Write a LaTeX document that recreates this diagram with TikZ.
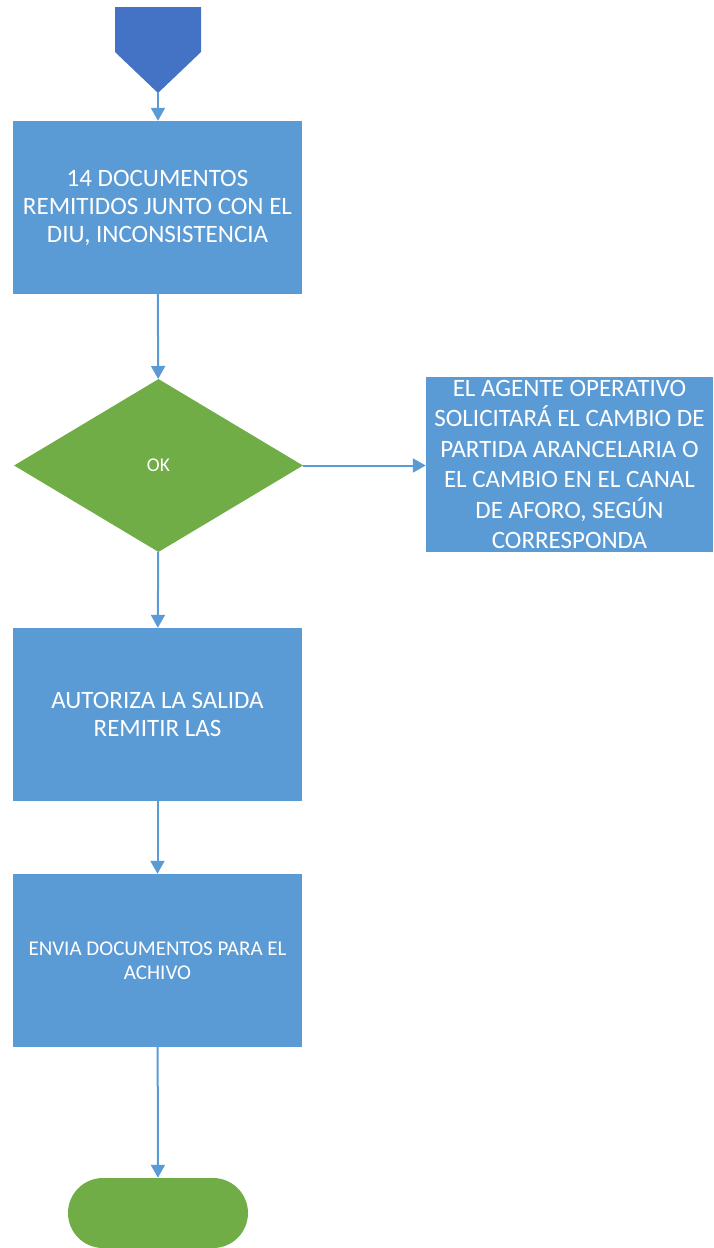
\documentclass[tikz,border=0pt]{standalone}
\usepackage{fontspec}
\setmainfont{Carlito}
\usetikzlibrary{shapes.geometric,arrows.meta}
\definecolor{boxblue}{HTML}{5B9BD5}
\definecolor{startblue}{HTML}{4472C4}
\definecolor{dgreen}{HTML}{70AD47}
\begin{document}
\begin{tikzpicture}[x=1pt,y=1pt,
  procbox/.style={rectangle,fill=boxblue,draw=none,text=white,align=center,inner sep=0pt,
    minimum width=289pt,minimum height=173pt,font=\fontsize{25}{28}\selectfont},
  decbox/.style={diamond,fill=dgreen,draw=none,text=white,inner sep=0pt,
    minimum width=289pt,minimum height=173pt,font=\fontsize{19.5}{22}\selectfont},
  termbox/.style={rectangle,rounded corners=35pt,fill=dgreen,draw=none,inner sep=0pt,
    minimum width=180pt,minimum height=70pt},
  conn/.style={draw=boxblue,line width=2pt,-{Triangle[width=14pt,length=13pt]}}
]
\useasboundingbox (0,0) rectangle (714,-1248);
\clip (0,0) rectangle (714,-1248);
% start pentagon
\fill[startblue] (115,-7) -- (201,-7) -- (201,-52) -- (158,-93) -- (115,-52) -- cycle;
\coordinate (starttip) at (158,-93);
\node[procbox] (b1) at (157.5,-207.5) {14 DOCUMENTOS\\REMITIDOS JUNTO CON EL\\DIU, INCONSISTENCIA};
\node[decbox] (d1) at (158.5,-465.5) {OK};
\node[procbox,minimum width=287pt,minimum height=175pt,font=\fontsize{25}{30.5}\selectfont] (r1) at (569.5,-464.5)
  {EL AGENTE OPERATIVO\\SOLICITARÁ EL CAMBIO DE\\PARTIDA ARANCELARIA O\\EL CAMBIO EN EL CANAL\\DE AFORO, SEGÚN\\CORRESPONDA};
\node[procbox] (b2) at (157.5,-714.5) {AUTORIZA LA SALIDA\\REMITIR LAS};
\node[procbox,font=\fontsize{21}{23.5}\selectfont] (b3) at (157.5,-960.5) {ENVIA DOCUMENTOS PARA EL\\ACHIVO};
\node[termbox] (t1) at (158,-1213) {};
\draw[conn] (starttip) -- (b1.north -| starttip);
\draw[conn] (b1) -- (d1);
\draw[conn] (d1.east) -- (r1.west |- d1.east);
\draw[conn] (d1) -- (b2);
\draw[conn] (b2) -- (b3);
\draw[conn] (b3) -- (t1);
\end{tikzpicture}
\end{document}
